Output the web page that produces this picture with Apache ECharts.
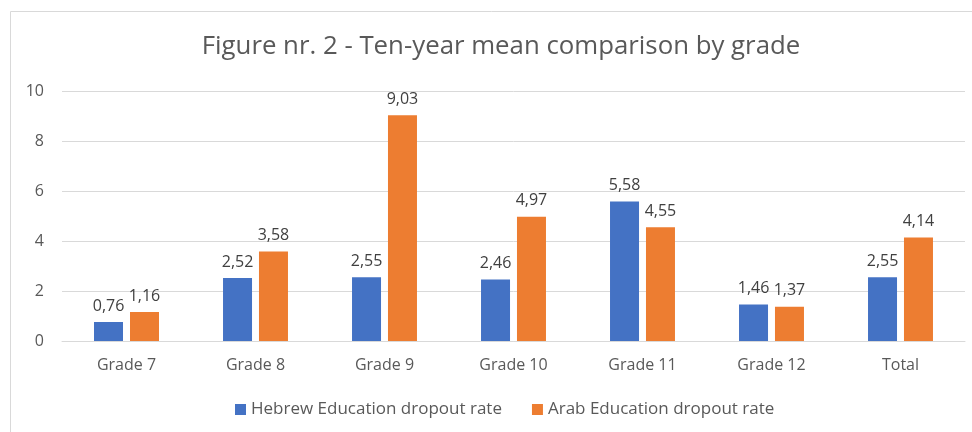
<!DOCTYPE html>
<html><head><meta charset="utf-8">
<script src="https://cdn.jsdelivr.net/npm/echarts@6/dist/echarts.min.js"></script>
<style>html,body{margin:0;padding:0;background:#fff}#c{width:972px;height:432px}</style>
</head><body><div id="c"></div>
<script>
const categories = ['Grade 7','Grade 8','Grade 9','Grade 10','Grade 11','Grade 12','Total'];
const hebrew = [0.76, 2.52, 2.55, 2.46, 5.58, 1.46, 2.55];
const arab = [1.16, 3.58, 9.03, 4.97, 4.55, 1.37, 4.14];
const yTicks = [0, 2, 4, 6, 8, 10];
const FONT = '"Open Sans", "Noto Sans", sans-serif';
const lbl = {show:true, position:'top', distance:8, color:'#404040', fontSize:16, fontFamily:FONT,
  formatter: p => p.value.toFixed(2).replace('.', ',')};
const chart = echarts.init(document.getElementById('c'));
chart.setOption({
  animation:false,
  graphic:[{type:'rect', shape:{x:10.5,y:11.5,width:980,height:440}, style:{fill:'none', stroke:'#d9d9d9', lineWidth:1}, silent:true}],
  title:{text:'Figure nr. 2 - Ten-year mean comparison by grade', left:496, textAlign:'center', top:29,
    textStyle:{color:'#595959', fontSize:25.8, fontWeight:'normal', fontFamily:FONT}},
  legend:{bottom:9, left:230, itemWidth:11, itemHeight:11, itemGap:30, icon:'rect',
    textStyle:{color:'#595959', fontSize:17, fontFamily:FONT}},
  grid:{left:62, right:7, top:91, bottom:91},
  xAxis:{type:'category', data:categories, axisTick:{show:false},
    axisLine:{lineStyle:{color:'#d9d9d9', width:1}},
    axisLabel:{color:'#595959', fontSize:16, fontFamily:FONT, margin:16}},
  yAxis:{type:'value', min:yTicks[0], max:yTicks[yTicks.length-1], interval:2,
    axisLabel:{color:'#595959', fontSize:16, fontFamily:FONT, margin:18},
    splitLine:{lineStyle:{color:'#d9d9d9'}}, axisLine:{show:false}, axisTick:{show:false}},
  series:[
    {name:'Hebrew Education dropout rate', type:'bar', data:hebrew, barWidth:29, barGap:'24%', itemStyle:{color:'#4472C4'}, label:lbl},
    {name:'Arab Education dropout rate', type:'bar', data:arab, barWidth:29, barGap:'24%', itemStyle:{color:'#ED7D31'}, label:lbl}
  ]
});
</script></body></html>
